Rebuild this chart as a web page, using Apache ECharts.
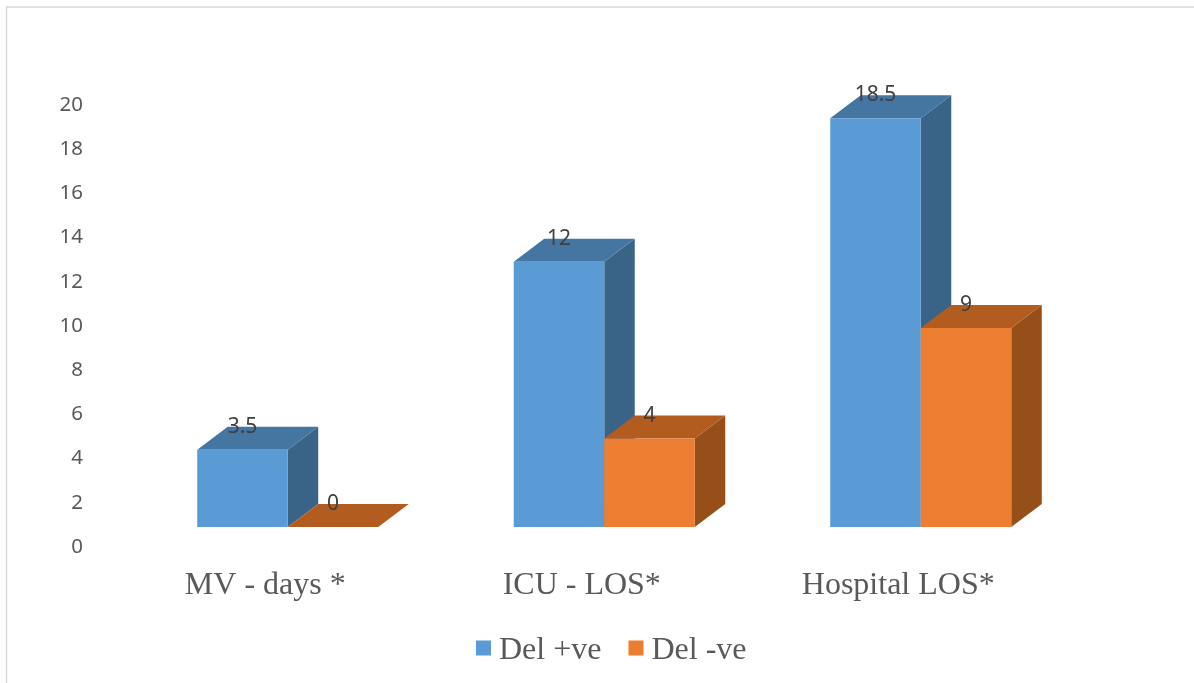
<!DOCTYPE html>
<html>
<head>
<meta charset="utf-8">
<style>html,body{margin:0;padding:0;background:#fff}#c{width:1194px;height:683px}</style>
<script src="https://cdn.jsdelivr.net/npm/echarts@6/dist/echarts.min.js"></script>
</head>
<body>
<div id="c"></div>
<script>
var categories = ['MV - days *', 'ICU - LOS*', 'Hospital LOS*'];
var delPositive = [3.5, 12, 18.5];
var delNegative = [0, 4, 9];

var chart = echarts.init(document.getElementById('c'), null, {renderer: 'canvas'});

function makeRender(side, front, top, dark) {
  return function (params, api) {
    var idx = api.value(0), val = api.value(1);
    var p = api.coord([idx, val]);
    var base = api.coord([idx, 0]);
    var bw = api.size([1, 0])[0] * 0.286;
    var shiftX = 22.5, shiftY = -19, dx = 30.5, dy = -23;
    var x0 = p[0] + shiftX + (side === 0 ? -bw : 0);
    var x1 = x0 + bw;
    var yT = p[1] + shiftY, yB = base[1] + shiftY;
    var children = [];
    children.push({type: 'polygon', shape: {points: [[x1, yT], [x1 + dx, yT + dy], [x1 + dx, yB + dy], [x1, yB]]},
      style: {fill: dark}});
    children.push({type: 'polygon', shape: {points: [[x0, yT], [x0 + dx, yT + dy], [x1 + dx, yT + dy], [x1, yT]]},
      style: {fill: top}});
    if (yB - yT > 0) {
      children.push({type: 'rect', shape: {x: x0, y: yT, width: bw, height: yB - yT}, style: {fill: front}});
    }
    children.push({type: 'text', style: {text: String(val), x: (x0 + x1) / 2, y: yT - 23,
      align: 'center', verticalAlign: 'middle', fill: '#404040', font: '21px "Noto Sans"'}});
    return {type: 'group', children: children};
  };
}

chart.setOption({
  animation: false,
  backgroundColor: '#fff',
  graphic: [
    {type: 'line', shape: {x1: 6.5, y1: 7, x2: 6.5, y2: 683}, style: {stroke: '#d9d9d9', lineWidth: 1.5}},
    {type: 'line', shape: {x1: 6, y1: 7, x2: 1194, y2: 7}, style: {stroke: '#d9d9d9', lineWidth: 1.5}}
  ],
  grid: {left: 107, top: 104, width: 949.5, height: 442},
  legend: {
    left: 476, top: 635, padding: 0, itemWidth: 15, itemHeight: 15, itemGap: 27, icon: 'rect',
    formatter: function (name) { return '{t|' + name + '}'; },
    textStyle: {
      rich: {t: {fontFamily: '"Liberation Serif"', fontSize: 32, color: '#595959', padding: [6, 0, 0, 3]}}
    },
    data: ['Del +ve', 'Del -ve']
  },
  xAxis: {
    type: 'category', data: categories,
    axisLine: {show: false}, axisTick: {show: false},
    axisLabel: {fontFamily: '"Liberation Serif"', fontSize: 32, color: '#595959', margin: 24}
  },
  yAxis: {
    type: 'value', min: 0, max: 20, interval: 2,
    axisLine: {show: false}, axisTick: {show: false}, splitLine: {show: false},
    axisLabel: {fontFamily: '"Noto Sans"', fontSize: 20.5, color: '#595959', margin: 24, verticalAlign: 'top', lineHeight: 2}
  },
  series: [
    {name: 'Del +ve', type: 'custom', itemStyle: {color: '#5B9BD5'},
     encode: {x: 0, y: 1}, clip: false,
     data: delPositive.map(function (v, i) { return [i, v]; }),
     renderItem: makeRender(0, '#5B9BD5', '#4575A1', '#3A6487')},
    {name: 'Del -ve', type: 'custom', itemStyle: {color: '#ED7D31'},
     encode: {x: 0, y: 1}, clip: false,
     data: delNegative.map(function (v, i) { return [i, v]; }),
     renderItem: makeRender(1, '#ED7D31', '#B35C20', '#974F19')}
  ]
});
</script>
</body>
</html>
